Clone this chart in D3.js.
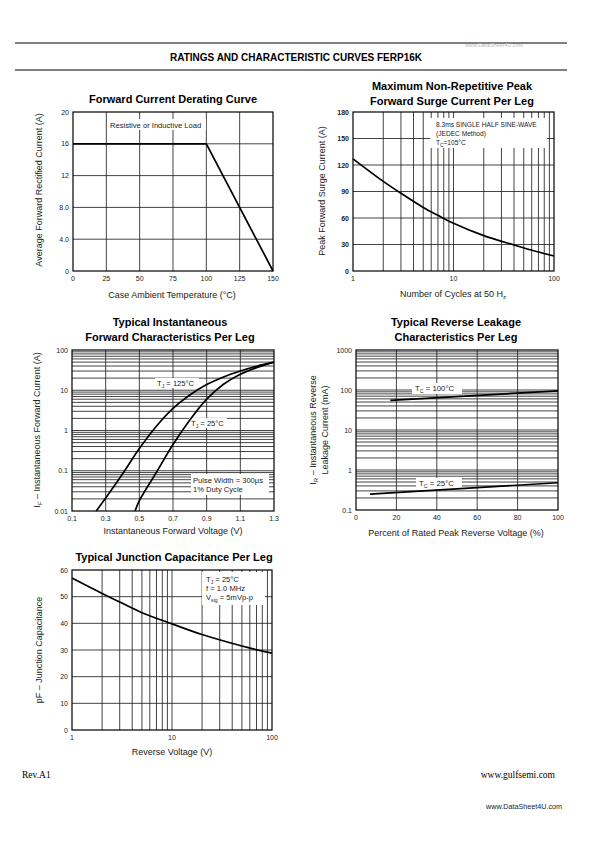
<!DOCTYPE html>
<html><head><meta charset="utf-8">
<script src="https://cdn.jsdelivr.net/npm/d3@7/dist/d3.min.js"></script>
<style>
body{margin:0;background:#fff;}
svg{display:block;font-family:"Liberation Sans",Arial,Helvetica,sans-serif;}
</style></head>
<body>
<svg id="c" width="595" height="842"></svg>
<script>
// ---------- DATA ----------
const derateTemp = [0, 100, 150];
const derateCurrent = [16, 16, 0];
const derateXTicks = [0, 25, 50, 75, 100, 125, 150];
const derateYTicks = [0, 4, 8, 12, 16, 20];
const derateYLabels = ["0", "4.0", "8.0", "12", "16", "20"];

const surgeCycles = [1, 2, 3, 5, 7, 10, 20, 40, 70, 100];
const surgeCurrent = [127, 101.5, 88, 72, 63, 54, 40, 29.5, 21.5, 17];
const surgeYTicks = [0, 30, 60, 90, 120, 150, 180];
const surgeXTicks = [1, 10, 100];

const fwdV125 = [0.244, 0.3, 0.4, 0.5, 0.6, 0.7, 0.8, 0.9, 1.0, 1.1, 1.2, 1.3];
const fwdI125 = [0.01, 0.021, 0.083, 0.355, 1.26, 3.55, 7.6, 13.8, 21.4, 30, 40, 50];
const fwdV25 = [0.475, 0.5, 0.6, 0.7, 0.8, 0.9, 1.0, 1.1, 1.2, 1.3];
const fwdI25 = [0.01, 0.018, 0.089, 0.447, 1.82, 6.0, 14.1, 25, 37, 50];
const fwdXTicks = [0.1, 0.3, 0.5, 0.7, 0.9, 1.1, 1.3];
const fwdYTicks = [0.01, 0.1, 1, 10, 100];

const leakPct100 = [17, 100];
const leakI100 = [55, 95];
const leakPct25 = [7, 100];
const leakI25 = [0.25, 0.48];
const leakXTicks = [0, 20, 40, 60, 80, 100];
const leakYTicks = [0.1, 1, 10, 100, 1000];

const capVoltage = [1, 2, 3, 5, 10, 20, 50, 100];
const capPF = [57, 51.2, 48, 44, 39.8, 35.8, 31.5, 28.8];
const capYTicks = [0, 10, 20, 30, 40, 50, 60];
const capXTicks = [1, 10, 100];

// ---------- HELPERS ----------
const svg = d3.select("#c");
const GRID = "#222";
function logMinors(lo, hi) {
  const out = [];
  for (let d = lo; d < hi; d *= 10) for (let k = 2; k <= 9; k++) out.push(d * k);
  return out;
}
function zip(a, b) { return a.map((v, i) => [v, b[i]]); }

function panel(o) {
  const g = svg.append("g");
  const [x0, x1] = o.x.range(), [y0, y1] = o.y.range();
  g.selectAll(".vg").data(o.xGrid).join("line")
    .attr("x1", d => o.x(d)).attr("x2", d => o.x(d)).attr("y1", y0).attr("y2", y1)
    .attr("stroke", GRID).attr("stroke-width", 0.85);
  g.selectAll(".hg").data(o.yGrid).join("line")
    .attr("y1", d => o.y(d)).attr("y2", d => o.y(d)).attr("x1", x0).attr("x2", x1)
    .attr("stroke", GRID).attr("stroke-width", 0.85);
  g.selectAll(".xt").data(o.xTicks).join("text")
    .attr("x", d => o.x(d)).attr("y", y0 + 10).attr("text-anchor", "middle")
    .attr("font-size", 7).attr("fill", "#222").text((d, i) => o.xFmt ? o.xFmt[i] : d);
  g.selectAll(".yt").data(o.yTicks).join("text")
    .attr("x", x0 - 4).attr("y", d => o.y(d) + 2.5).attr("text-anchor", "end")
    .attr("font-size", 7).attr("fill", "#222").attr("font-weight", o.yBold ? "bold" : "normal")
    .text((d, i) => o.yFmt ? o.yFmt[i] : d);
  return g;
}
function frame(g, o) {
  const [x0, x1] = o.x.range(), [y0, y1] = o.y.range();
  g.append("rect").attr("x", x0).attr("y", y1).attr("width", x1 - x0).attr("height", y0 - y1)
    .attr("fill", "none").attr("stroke", "#000").attr("stroke-width", 1.2);
}
function whiteBox(g, x, y, w, h) {
  g.append("rect").attr("x", x).attr("y", y).attr("width", w).attr("height", h).attr("fill", "#fff");
}
function title(lines, cx, y) {
  lines.forEach((t, i) => svg.append("text").attr("x", cx).attr("y", y + i * 14.5)
    .attr("text-anchor", "middle").attr("font-size", 11).attr("font-weight", "bold").text(t));
}
function xLabel(cx, y, parts) {
  const t = svg.append("text").attr("x", cx).attr("y", y).attr("text-anchor", "middle")
    .attr("font-size", 9).attr("fill", "#222");
  parts.forEach(p => { const s = t.append("tspan").text(p[0]); if (p[1]) s.attr("font-size", 6).attr("dy", p[1]); });
  return t;
}
function yLabel(x, cy, parts) {
  const t = svg.append("text").attr("transform", `translate(${x},${cy}) rotate(-90)`)
    .attr("text-anchor", "middle").attr("font-size", 9).attr("fill", "#222");
  parts.forEach(p => { const s = t.append("tspan").text(p[0]); if (p[1] !== undefined) s.attr("font-size", p[2] || 9).attr("dy", p[1]); });
  return t;
}
function note(g, x, y, parts, fs) {
  const t = g.append("text").attr("x", x).attr("y", y).attr("font-size", fs || 7.5).attr("fill", "#222");
  parts.forEach(p => { const s = t.append("tspan").text(p[0]); if (p[1] !== undefined) s.attr("font-size", p[2] || fs || 7.5).attr("dy", p[1]); });
  return t;
}
function curve(g, o, xs, ys, c) {
  g.append("path").datum(zip(xs, ys))
    .attr("d", d3.line().x(d => o.x(d[0])).y(d => o.y(d[1])).curve(c || d3.curveCatmullRom.alpha(0.5)))
    .attr("fill", "none").attr("stroke", "#000").attr("stroke-width", 1.7);
}

// ---------- HEADER ----------
svg.append("line").attr("x1", 15).attr("x2", 567).attr("y1", 43).attr("y2", 43).attr("stroke", "#000").attr("stroke-width", 1);
svg.append("line").attr("x1", 15).attr("x2", 567).attr("y1", 70).attr("y2", 70).attr("stroke", "#000").attr("stroke-width", 1);
svg.append("text").attr("x", 296).attr("y", 61).attr("text-anchor", "middle").attr("font-size", 10)
  .attr("font-weight", "bold").text("RATINGS AND CHARACTERISTIC CURVES FERP16K");
svg.append("text").attr("x", 465).attr("y", 47).attr("font-size", 5.5).attr("fill", "#bbb").text("www.DataSheet4U.com");

// ---------- CHART 1 ----------
{
  const o = {
    x: d3.scaleLinear().domain([0, 150]).range([73, 273]),
    y: d3.scaleLinear().domain([0, 20]).range([271, 112]),
    xGrid: [25, 50, 75, 100, 125], yGrid: [4, 8, 12, 16],
    xTicks: derateXTicks, yTicks: derateYTicks, yFmt: derateYLabels
  };
  const g = panel(o);
  whiteBox(g, 108, 119, 98, 11);
  note(g, 110, 128, [["Resistive or Inductive Load"]], 7.6);
  curve(g, o, derateTemp, derateCurrent, d3.curveLinear);
  frame(g, o);
  title(["Forward Current Derating Curve"], 173, 103);
  xLabel(172, 298, [["Case Ambient Temperature (°C)"]]);
  yLabel(42, 190, [["Average Forward Rectified Current (A)"]]);
}

// ---------- CHART 2 ----------
{
  const o = {
    x: d3.scaleLog().domain([1, 100]).range([353, 554]),
    y: d3.scaleLinear().domain([0, 180]).range([271, 112]),
    xGrid: logMinors(1, 100).concat([10]), yGrid: [30, 60, 90, 120, 150],
    xTicks: surgeXTicks, yTicks: surgeYTicks, yBold: true
  };
  const g = panel(o);
  whiteBox(g, 430, 118, 117, 30);
  note(g, 436, 127, [["8.3ms SINGLE HALF SINE-WAVE"]], 6.6);
  note(g, 436, 136, [["(JEDEC Method)"]], 6.6);
  note(g, 436, 145, [["T"], ["C", 1.5, 4.8], ["=105°C", -1.5, 6.6]], 6.6);
  curve(g, o, surgeCycles, surgeCurrent);
  frame(g, o);
  title(["Maximum Non-Repetitive Peak", "Forward Surge Current Per Leg"], 452, 90);
  xLabel(453, 297, [["Number of Cycles at 50 H"], ["z", 1.5]]);
  yLabel(325, 191, [["Peak Forward Surge Current (A)"]]);
}

// ---------- CHART 3 ----------
{
  const o = {
    x: d3.scaleLinear().domain([0.1, 1.3]).range([72, 274]),
    y: d3.scaleLog().domain([0.01, 100]).range([511, 350]),
    xGrid: [0.3, 0.5, 0.7, 0.9, 1.1], yGrid: logMinors(0.01, 100).concat([0.1, 1, 10]),
    xTicks: fwdXTicks, yTicks: fwdYTicks
  };
  const g = panel(o);
  whiteBox(g, 191, 474, 78, 21);
  note(g, 193, 483, [["Pulse Width = 300µs"]], 7.6);
  note(g, 193, 492, [["1% Duty Cycle"]], 7.6);
  whiteBox(g, 155, 378, 44, 10);
  note(g, 157, 386, [["T"], ["J", 1.5, 5.2], [" = 125°C", -1.5, 7.6]], 7.6);
  whiteBox(g, 189, 418, 38, 10);
  note(g, 191, 426, [["T"], ["J", 1.5, 5.2], [" = 25°C", -1.5, 7.6]], 7.6);
  curve(g, o, fwdV125, fwdI125);
  curve(g, o, fwdV25, fwdI25);
  frame(g, o);
  title(["Typical Instantaneous", "Forward Characteristics Per Leg"], 170, 326);
  xLabel(173, 534, [["Instantaneous Forward Voltage (V)"]]);
  yLabel(40, 430, [["I"], ["F", 1.5, 6], [" – Instantaneous Forward Current (A)", -1.5, 9]]);
}

// ---------- CHART 4 ----------
{
  const o = {
    x: d3.scaleLinear().domain([0, 100]).range([356, 558]),
    y: d3.scaleLog().domain([0.1, 1000]).range([510, 350]),
    xGrid: [20, 40, 60, 80], yGrid: logMinors(0.1, 1000).concat([1, 10, 100]),
    xTicks: leakXTicks, yTicks: leakYTicks
  };
  const g = panel(o);
  whiteBox(g, 412, 383, 50, 11);
  note(g, 415, 391, [["T"], ["C", 1.5, 5.2], [" = 100°C", -1.5, 7.8]], 7.8);
  whiteBox(g, 416, 478, 46, 11);
  note(g, 419, 486, [["T"], ["C", 1.5, 5.2], [" = 25°C", -1.5, 7.8]], 7.8);
  curve(g, o, leakPct100, leakI100, d3.curveLinear);
  curve(g, o, leakPct25, leakI25, d3.curveLinear);
  frame(g, o);
  title(["Typical Reverse Leakage", "Characteristics Per Leg"], 456, 326);
  xLabel(456, 536, [["Percent of Rated Peak Reverse Voltage (%)"]]);
  yLabel(316, 430, [["I"], ["R", 1.5, 6], [" – Instantaneous Reverse", -1.5, 9]]);
  yLabel(328, 430, [["Leakage Current (mA)"]]);
}

// ---------- CHART 5 ----------
{
  const o = {
    x: d3.scaleLog().domain([1, 100]).range([72, 272]),
    y: d3.scaleLinear().domain([0, 60]).range([730, 570]),
    xGrid: logMinors(1, 100).concat([10]), yGrid: [10, 20, 30, 40, 50],
    xTicks: capXTicks, yTicks: capYTicks
  };
  const g = panel(o);
  whiteBox(g, 202, 572, 63, 33);
  note(g, 206, 582, [["T"], ["J", 1.5, 5.2], [" = 25°C", -1.5, 7.6]], 7.6);
  note(g, 206, 591, [["f = 1.0 MHz"]], 7.6);
  note(g, 206, 600, [["V"], ["sig", 1.5, 5.2], [" = 5mVp-p", -1.5, 7.6]], 7.6);
  curve(g, o, capVoltage, capPF);
  frame(g, o);
  title(["Typical Junction Capacitance Per Leg"], 174, 561);
  xLabel(172, 755, [["Reverse Voltage (V)"]]);
  yLabel(42, 650, [["pF – Junction Capacitance"]]);
}

// ---------- FOOTER ----------
svg.append("text").attr("x", 22).attr("y", 778).attr("font-family", "'Liberation Serif','Times New Roman',serif")
  .attr("font-size", 9.5).text("Rev.A1");
svg.append("text").attr("x", 555).attr("y", 778).attr("text-anchor", "end")
  .attr("font-family", "'Liberation Serif','Times New Roman',serif").attr("font-size", 9.5).text("www.gulfsemi.com");
svg.append("text").attr("x", 562).attr("y", 809).attr("text-anchor", "end").attr("font-size", 7.2)
  .attr("fill", "#222").text("www.DataSheet4U.com");
</script>
</body></html>
